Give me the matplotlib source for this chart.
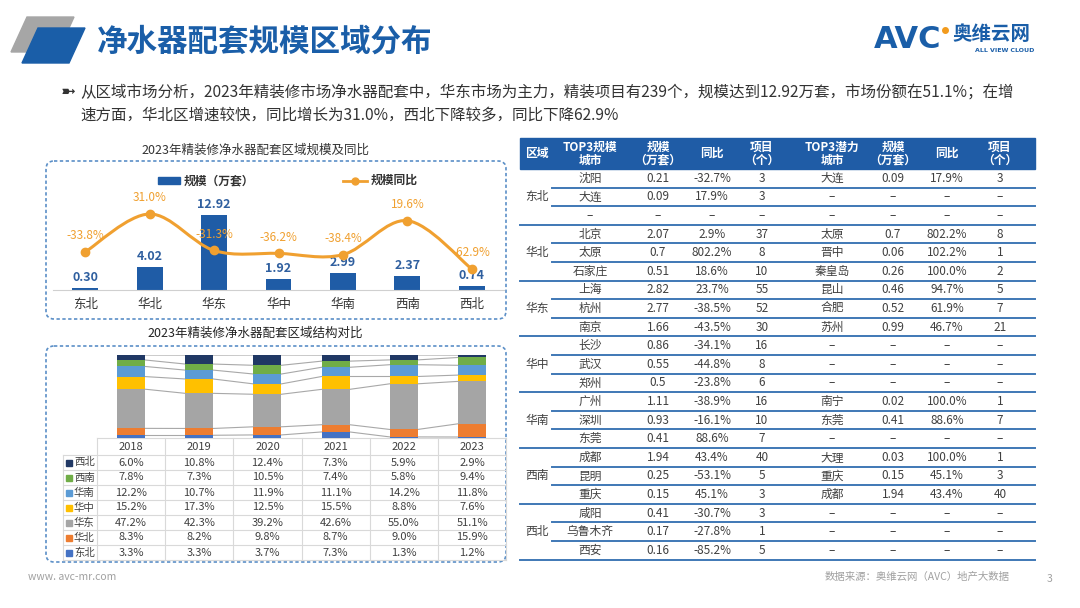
import matplotlib
matplotlib.use('Agg')
import matplotlib.pyplot as plt
import numpy as np
from matplotlib.patches import Polygon, FancyBboxPatch, Rectangle, PathPatch
from matplotlib.path import Path

plt.rcParams['font.family'] = ['Noto Sans CJK SC', 'DejaVu Sans']

# ---- chart 1: 2023 scale and yoy by region
regions = ['东北', '华北', '华东', '华中', '华南', '西南', '西北']
scale = [0.30, 4.02, 12.92, 1.92, 2.99, 2.37, 0.74]
yoy = [-33.8, 31.0, -31.3, -36.2, -38.4, 19.6, -62.9]

# ---- chart 2: regional share by year (%)
years = ['2018', '2019', '2020', '2021', '2022', '2023']
share_db = [3.3, 3.3, 3.7, 7.3, 1.3, 1.2]
share_hb = [8.3, 8.2, 9.8, 8.7, 9.0, 15.9]
share_hd = [47.2, 42.3, 39.2, 42.6, 55.0, 51.1]
share_hz = [15.2, 17.3, 12.5, 15.5, 8.8, 7.6]
share_hn = [12.2, 10.7, 11.9, 11.1, 14.2, 11.8]
share_xn = [7.8, 7.3, 10.5, 7.4, 5.8, 9.4]
share_xb = [6.0, 10.8, 12.4, 7.3, 5.9, 2.9]
share_names = ['东北', '华北', '华东', '华中', '华南', '西南', '西北']  # bottom -> top
share_colors = ['#4472c4', '#ed7d31', '#a5a5a5', '#ffc000', '#5b9bd5', '#70ad47', '#203864']

# ---- right table
table_regions = ['东北', '华北', '华东', '华中', '华南', '西南', '西北']
top_city = ['沈阳', '大连', '–', '北京', '太原', '石家庄', '上海', '杭州', '南京',
            '长沙', '武汉', '郑州', '广州', '深圳', '东莞', '成都', '昆明', '重庆',
            '咸阳', '乌鲁木齐', '西安']
top_scale = ['0.21', '0.09', '–', '2.07', '0.7', '0.51', '2.82', '2.77', '1.66',
             '0.86', '0.55', '0.5', '1.11', '0.93', '0.41', '1.94', '0.25', '0.15',
             '0.41', '0.17', '0.16']
top_yoy = ['-32.7%', '17.9%', '–', '2.9%', '802.2%', '18.6%', '23.7%', '-38.5%', '-43.5%',
           '-34.1%', '-44.8%', '-23.8%', '-38.9%', '-16.1%', '88.6%', '43.4%', '-53.1%', '45.1%',
           '-30.7%', '-27.8%', '-85.2%']
top_proj = ['3', '3', '–', '37', '8', '10', '55', '52', '30', '16', '8', '6',
            '16', '10', '7', '40', '5', '3', '3', '1', '5']
pot_city = ['大连', '–', '–', '太原', '晋中', '秦皇岛', '昆山', '合肥', '苏州',
            '–', '–', '–', '南宁', '东莞', '–', '大理', '重庆', '成都', '–', '–', '–']
pot_scale = ['0.09', '–', '–', '0.7', '0.06', '0.26', '0.46', '0.52', '0.99',
             '–', '–', '–', '0.02', '0.41', '–', '0.03', '0.15', '1.94', '–', '–', '–']
pot_yoy = ['17.9%', '–', '–', '802.2%', '102.2%', '100.0%', '94.7%', '61.9%', '46.7%',
           '–', '–', '–', '100.0%', '88.6%', '–', '100.0%', '45.1%', '43.4%', '–', '–', '–']
pot_proj = ['3', '–', '–', '8', '1', '2', '5', '7', '21', '–', '–', '–',
            '1', '7', '–', '1', '3', '40', '–', '–', '–']
headers = ['区域', 'TOP3规模\n城市', '规模\n（万套）', '同比', '项目\n（个）',
           'TOP3潜力\n城市', '规模\n（万套）', '同比', '项目\n（个）']

W, H = 1080, 608
BLUE = '#1f5ca6'
ORANGE = '#f0a030'
TXT = '#404040'

fig = plt.figure(figsize=(W / 100, H / 100), dpi=100)
bg = fig.add_axes([0, 0, 1, 1])
bg.set_xlim(0, W)
bg.set_ylim(H, 0)
bg.axis('off')


def px_axes(x0, y0, x1, y1):
    a = fig.add_axes([x0 / W, 1 - y1 / H, (x1 - x0) / W, (y1 - y0) / H])
    a.set_facecolor('none')
    return a


# title decoration
bg.add_patch(Polygon([(27, 17), (74, 17), (58, 52), (11, 52)], color='#a6a6a6', zorder=1))
bg.add_patch(Polygon([(38, 28), (85, 28), (69, 63), (22, 63)], color='#1a5ea8', zorder=2))
bg.text(97, 42, '净水器配套规模区域分布', fontsize=22, fontweight='bold', color='#1a5ea8', va='center')

# logo
bg.text(874, 40, 'AVC', fontsize=22, fontweight='heavy', color='#1a5ea8', va='center',
        family='DejaVu Sans')
bg.plot([945], [30], 'o', color='#f29b1d', ms=4)
bg.text(952, 35, '奥维云网', fontsize=14, fontweight='bold', color='#1a5ea8', va='center')
bg.text(975, 51, 'ALL VIEW CLOUD', fontsize=4.5, fontweight='bold', color='#1a5ea8', va='center',
        family='DejaVu Sans')

# bullet text
bg.text(61, 92, '➼', fontsize=13, color='#333333', va='center', family='DejaVu Sans')
bg.text(80, 92, '从区域市场分析，2023年精装修市场净水器配套中，华东市场为主力，精装项目有239个，'
        '规模达到12.92万套，市场份额在51.1%；在增', fontsize=11.2, color='#333333', va='center')
bg.text(80, 115, '速方面，华北区增速较快，同比增长为31.0%，西北下降较多，同比下降62.9%',
        fontsize=11.2, color='#333333', va='center')

# dashed boxes
for (x0, y0, x1, y1) in [(46, 161, 506, 319), (46, 346, 506, 562)]:
    bg.add_patch(FancyBboxPatch((x0, y0), x1 - x0, y1 - y0, boxstyle='round,pad=0,rounding_size=8',
                                fill=False, ec='#5b8fc7', lw=1.2, ls=(0, (2, 1.5))))

bg.text(255, 150, '2023年精装修净水器配套区域规模及同比', fontsize=9, color='#333333', ha='center', va='center')
bg.text(255, 333, '2023年精装修净水器配套区域结构对比', fontsize=9, color='#222222', ha='center',
        va='center', fontweight='medium')

# legend chart 1
bg.add_patch(Rectangle((158, 177), 22, 7, color=BLUE))
bg.text(184, 180.5, '规模（万套）', fontsize=8.5, fontweight='bold', color='#333333', va='center')
bg.plot([343, 367], [180.5, 180.5], color=ORANGE, lw=2)
bg.plot([355], [180.5], 'o', color=ORANGE, ms=5)
bg.text(371, 180.5, '规模同比', fontsize=8.5, fontweight='bold', color='#333333', va='center')

# ---- bar + line chart
ax1 = px_axes(53, 195, 504, 290)
x = np.arange(len(regions))
ax1.bar(x, scale, width=0.4, color=BLUE)
ax1.set_xlim(-0.5, 6.5)
ax1.set_ylim(0, 16.4)
ax1.set_yticks([])
ax1.set_xticks(x, regions)
ax1.tick_params(axis='x', length=0, pad=6, labelsize=9, labelcolor='#333333')
for s in ['top', 'left', 'right']:
    ax1.spines[s].set_visible(False)
ax1.spines['bottom'].set_color('#d0d0d0')
for i, v in enumerate(scale):
    ax1.annotate(f'{v:.2f}', (i, v), xytext=(0, 3), textcoords='offset points', ha='center',
                 va='bottom', color='#2f5f9f', fontsize=9, fontweight='bold')

ax2 = ax1.twinx()
ax2.set_ylim(-98.7, 63.4)
ax2.axis('off')
# smooth curve through the points (bezier)
pts = np.column_stack([x, yoy]).astype(float)
verts = [tuple(pts[0])]
codes = [Path.MOVETO]
for i in range(len(pts) - 1):
    p0 = pts[max(i - 1, 0)]
    p1 = pts[i]
    p2 = pts[i + 1]
    p3 = pts[min(i + 2, len(pts) - 1)]
    c1 = p1 + (p2 - p0) / 6
    c2 = p2 - (p3 - p1) / 6
    verts += [tuple(c1), tuple(c2), tuple(p2)]
    codes += [Path.CURVE4] * 3
ax2.add_patch(PathPatch(Path(verts, codes), fill=False, ec=ORANGE, lw=2.2))
ax2.plot(x, yoy, 'o', color=ORANGE, ms=6)
for i, v in enumerate(yoy):
    ax2.annotate(f'{v:.1f}%', (i, v), xytext=(0, 7), textcoords='offset points', ha='center',
                 va='bottom', color=ORANGE, fontsize=8.5)

# ---- stacked share chart
ax3 = px_axes(97, 355, 506, 438)
shares = [share_db, share_hb, share_hd, share_hz, share_hn, share_xn, share_xb]
xs = np.arange(len(years))
bw = 0.41
bottom = np.zeros(len(years))
for vals, col in zip(shares, share_colors):
    vals = np.array(vals)
    ax3.bar(xs, vals, bottom=bottom, width=bw, color=col, zorder=2)
    top = bottom + vals
    for i in range(len(years) - 1):
        ax3.plot([i + bw / 2, i + 1 - bw / 2], [top[i], top[i + 1]], color='#a8a8a8', lw=0.8, zorder=1)
    bottom = top
ax3.set_xlim(-0.5, 5.5)
ax3.set_ylim(0, 100)
ax3.axis('off')

# data table under stacked chart
col_x = [97 + 68.2 * j for j in range(7)]
grid = '#d9d9d9'
bg.plot([97, col_x[-1]], [438, 438], color=grid, lw=0.8)
for r in range(8):
    yy = 455 + 15 * r
    bg.plot([63, col_x[-1]], [yy, yy], color=grid, lw=0.8)
bg.plot([63, 63], [455, 560], color=grid, lw=0.8)
for cx in col_x:
    bg.plot([cx, cx], [438, 560], color=grid, lw=0.8)
for j, yr in enumerate(years):
    bg.text(col_x[j] + 34.1, 447, yr, fontsize=8, color=TXT, ha='center', va='center')
for r, k in enumerate(range(len(share_names) - 1, -1, -1)):
    yc = 462.5 + 15 * r
    bg.add_patch(Rectangle((66, yc - 3), 6, 6, color=share_colors[k]))
    bg.text(74, yc, share_names[k], fontsize=7.5, color=TXT, va='center')
    for j in range(len(years)):
        bg.text(col_x[j] + 34.1, yc, f'{shares[k][j]:.1f}%', fontsize=8, color=TXT,
                ha='center', va='center')

# ---- right table
tx0, tx1 = 520, 1035
bg.add_patch(Rectangle((tx0, 138), tx1 - tx0, 31, color=BLUE))
col_c = [537, 590, 658, 712, 762, 832, 893, 947, 1000]
for c, h in zip(col_c, headers):
    bg.text(c, 153.5, h, fontsize=8.5, fontweight='bold', color='white', ha='center', va='center',
            linespacing=1.0)
row_h = 18.6
row0 = 169
cols = [top_city, top_scale, top_yoy, top_proj, pot_city, pot_scale, pot_yoy, pot_proj]
for r in range(len(top_city)):
    yc = row0 + row_h * (r + 0.5)
    for c, col in zip(col_c[1:], cols):
        bg.text(c, yc, col[r], fontsize=8.5, color=TXT, ha='center', va='center')
    yb = row0 + row_h * (r + 1)
    xs0 = tx0 if (r + 1) % 3 == 0 else 552
    bg.plot([xs0, tx1], [yb, yb], color='#3f78b5', lw=1.4)
for g, name in enumerate(table_regions):
    bg.text(col_c[0], row0 + row_h * (3 * g + 1.5), name, fontsize=8.5, color=TXT,
            ha='center', va='center')

# footer
bg.text(28, 577, 'www. avc-mr.com', fontsize=7.5, color='#a0a0a0', va='center')
bg.text(1010, 577, '数据来源：奥维云网（AVC）地产大数据', fontsize=7.5, color='#a0a0a0', ha='right', va='center')
bg.text(1050, 579, '3', fontsize=7.5, color='#a0a0a0', ha='center', va='center')

fig.savefig('out.png', dpi=100)
